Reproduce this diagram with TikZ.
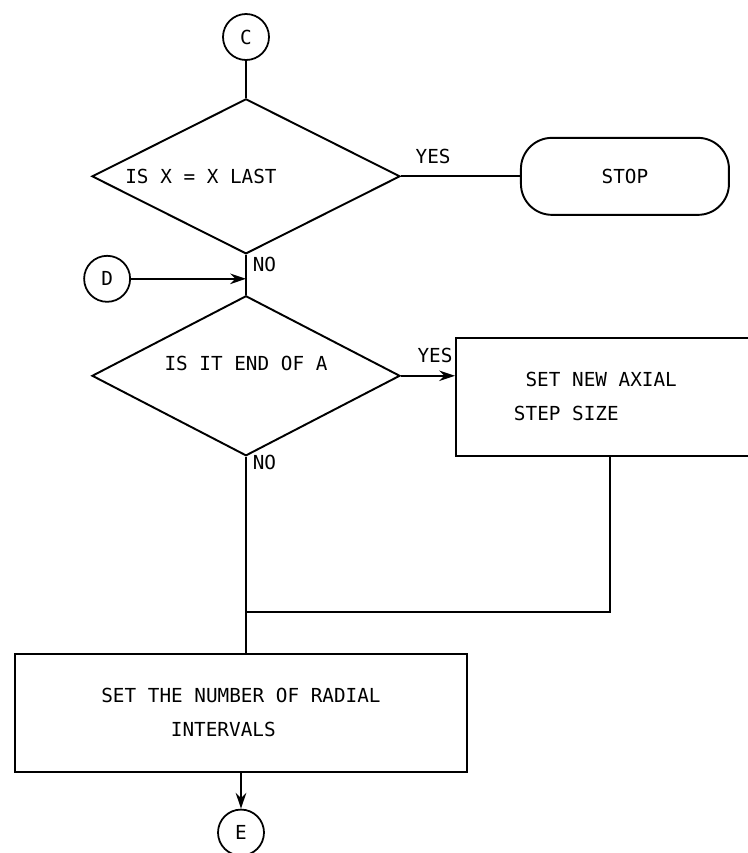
\documentclass[tikz,border=0pt]{standalone}
\usepackage{fontspec}
\setmonofont{DejaVu Sans Mono}
\usetikzlibrary{arrows.meta,positioning,shapes.geometric,calc}

\begin{document}
\begin{tikzpicture}[
    font=\ttfamily\fontsize{11}{19.4}\selectfont,
    node distance=0.8cm and 1cm,
    conn/.style={draw, circle, minimum size=0.92cm, inner sep=0pt, line width=1pt},
    decision/.style={draw, diamond, aspect=2, minimum width=6.16cm, minimum height=3.1cm, inner sep=0pt, line width=1.1pt},
    proc/.style={draw, rectangle, line width=1.1pt, align=left},
    term/.style={draw, rectangle, rounded corners=0.62cm, minimum width=4.16cm, minimum height=1.54cm, line width=1.1pt},
    line/.style={line width=1.1pt},
    arr/.style={line, -{Stealth[length=9pt, width=6pt]}},
    yes/.style={above, yshift=0.12cm},
    no/.style={right},
]
\useasboundingbox (0,0) rectangle (14.96,-17.06);
\clip (0,0) rectangle (14.96,-17.06);

\node[conn] (c) at (4.92,-0.74) {C};
\node[decision, below=0.74cm of c, label={[xshift=-0.9cm]center:{IS X = X LAST}}] (q1) {};
\node[term, right=2.38cm of q1] (stop) {STOP};
\node[decision, minimum height=3.2cm, below=0.8cm of q1, label={[yshift=0.24cm]center:{IS IT END OF A}}] (q2) {};
\node[proc, minimum width=6.52cm, minimum height=2.36cm, right=1.08cm of q2, yshift=-0.42cm,
      label={[align=left, xshift=-0.47cm]center:{\hspace*{0.6em}SET NEW AXIAL\\STEP SIZE}}] (axial) {};
\node[proc, minimum width=9.04cm, minimum height=2.36cm, below=3.92cm of q2, xshift=-0.1cm] (radial) {SET THE NUMBER OF RADIAL\\\hspace*{3.6em}INTERVALS};
\node[conn, below=0.72cm of radial] (e) {E};

\coordinate (dj) at ($(q1.south)!0.6!(q2.north)$);
\node[conn, left=2.3cm of dj] (d) {D};
\coordinate (mj) at ($(q2.south)+(0,-3.1)$);
\coordinate (ad) at ($(axial.south west)+(3.1,0)$);

\draw[line] (c) -- (q1);
\draw[line] (q1.east) -- node[yes, pos=0.27] {YES} (stop);
\draw[line] (q1.south) -- node[no, pos=0.25] {NO} (q2.north);
\draw[arr] (d) -- (dj);
\draw[arr] (q2.east) -- node[yes, pos=0.63] {YES} (q2.east -| axial.west);
\draw[line] (q2.south) -- node[no, pos=0.04] {NO} (mj) -- (mj |- radial.north);
\draw[line] (ad) |- (mj);
\draw[arr] (radial) -- (e);
\end{tikzpicture}
\end{document}
